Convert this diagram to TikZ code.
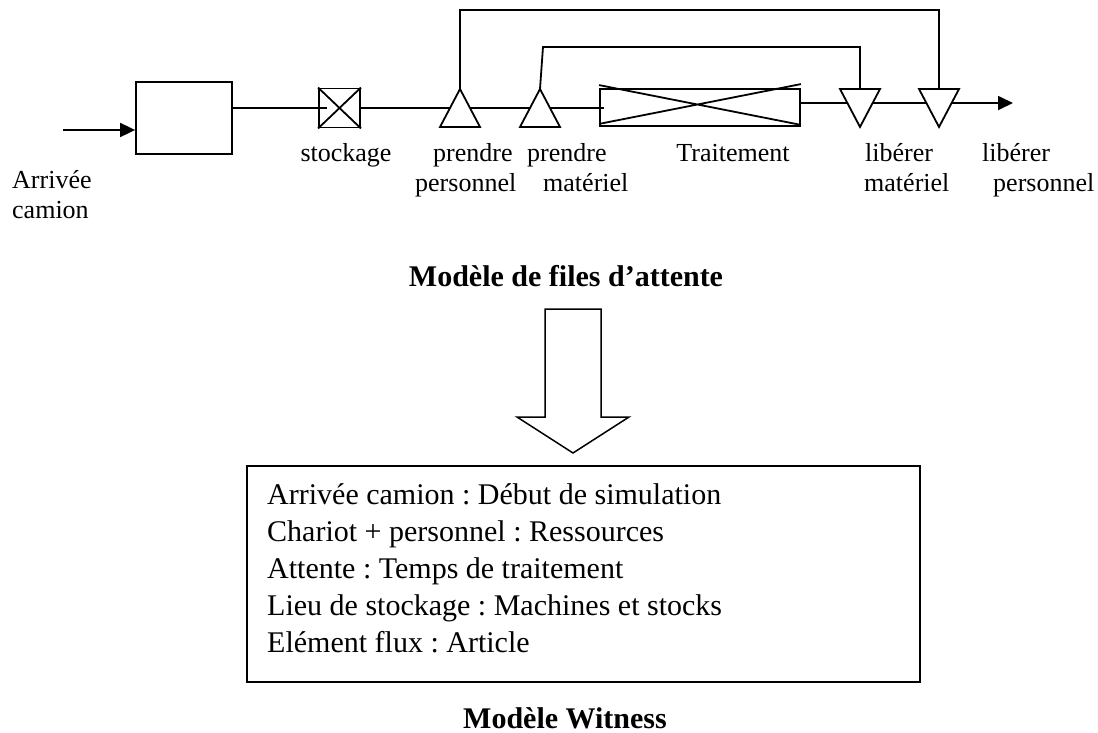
\documentclass[tikz,border=0pt]{standalone}
\usepackage{fontspec}
\setmainfont{Liberation Serif}
\frenchspacing
\usetikzlibrary{positioning, arrows.meta, calc, shapes.geometric}
\tikzset{
  procbox/.style={draw, line width=1.8pt, inner sep=0pt},
  uptri/.style={draw, line width=1.8pt, isosceles triangle, isosceles triangle stretches,
    shape border rotate=90, minimum width=40pt, minimum height=38pt, inner sep=0pt, outer sep=0pt},
  downtri/.style={uptri, shape border rotate=270},
  wire/.style={line width=1.8pt},
  inwire/.style={wire, -{Triangle[length=15pt, width=14pt]}},
  lbl/.style={font=\fontsize{26}{30}\selectfont, inner sep=0pt, anchor=base west},
  titre/.style={font=\fontsize{30}{36}\selectfont\bfseries, inner sep=0pt, anchor=base}
}

\begin{document}
\begin{tikzpicture}[x=1pt, y=-1pt]
        \useasboundingbox (0,0) rectangle (1098,733);
        \coordinate (in) at (63,130);
        \node[procbox, minimum width=96pt, minimum height=72pt] (arr) at (184,118) {};
        \node[procbox, minimum width=41pt, minimum height=39pt] (stk) at (339.5,108) {};
        \draw[wire] (stk.north west) -- (stk.south east) (stk.south west) -- (stk.north east);
        \node[uptri, anchor=apex] (pp) at (460,89) {};
        \node[uptri, anchor=apex] (pm) at (540,89) {};
        \node[procbox, minimum width=200pt, minimum height=37pt] (trt) at (700,107.5) {};
        \draw[wire] ([yshift=3pt]trt.north west) -- ([yshift=2pt]trt.south east)
                    ([yshift=3pt]trt.south west) -- ([yshift=4pt]trt.north east);
        \node[downtri, anchor=apex] (lm) at (860,127) {};
        \node[downtri, anchor=apex] (lp) at (939,127) {};
        \coordinate (out) at (1013,103);
        \coordinate (hp) at (460,10);
        \coordinate (hm) at (543,47);

        \draw[inwire] (in) -- (in -| arr.west);
        \draw[wire] (arr.east |- stk) -- ([xshift=9pt]stk.west);
        \draw[wire] (stk.east) -- (pp.left side);
        \draw[wire] (pp.right side) -- (pm.left side);
        \draw[wire] (pm.right side) -- ([xshift=5pt]trt.west |- pm.right side);
        \draw[wire] (trt.east |- out) -- ($(lm.right corner)!0.37!(lm.apex)$);
        \draw[wire] ($(lm.left corner)!0.37!(lm.apex)$) -- ($(lp.right corner)!0.37!(lp.apex)$);
        \draw[inwire] ($(lp.left corner)!0.37!(lp.apex)$) -- (out);
        \draw[wire] (pp.apex) -- (hp) -| (lp.north);
        \draw[wire] (pm.apex) -- (hm) -| (lm.north);

        \node[lbl] (arr1) at (12,188) {Arrivée};
        \node[lbl] (arr2) at (12,218) {camion};
        \node[lbl, anchor=base] (stkl) at (346,161) {stockage};
        \node[lbl] (pp1) at (433,161) {prendre};
        \node[lbl] (pp2) at (415,191) {personnel};
        \node[lbl] (pm1) at (527,161) {prendre};
        \node[lbl] (pm2) at (543,191) {matériel};
        \node[lbl, anchor=base] (trtl) at (733,161) {Traitement};
        \node[lbl] (lm1) at (865,161) {libérer};
        \node[lbl] (lm2) at (864,191) {matériel};
        \node[lbl] (lp1) at (982,161) {libérer};
        \node[lbl] (lp2) at (993,191) {personnel};

        \node[titre] (qtitle) at (566,286) {Modèle de files d’attente};
        \draw[line width=1.5pt] (545,309) -- (601,309) -- (601,417) -- (629,417)
              -- (573,453) -- (517,417) -- (545,417) -- cycle;
        \node[procbox, minimum width=673pt, minimum height=216pt] (wit) at (583.5,574) {};
        \node[anchor=base west, align=left, inner sep=0pt, font=\fontsize{30}{37}\selectfont] (corr) at (267,652)
             {Arrivée camion : Début de simulation\\
              Chariot + personnel : Ressources\\
              Attente : Temps de traitement\\
              Lieu de stockage : Machines et stocks\\
              Elément flux : Article};
        \node[titre] (wtitle) at (565,728) {Modèle Witness};
      \end{tikzpicture}
\end{document}
